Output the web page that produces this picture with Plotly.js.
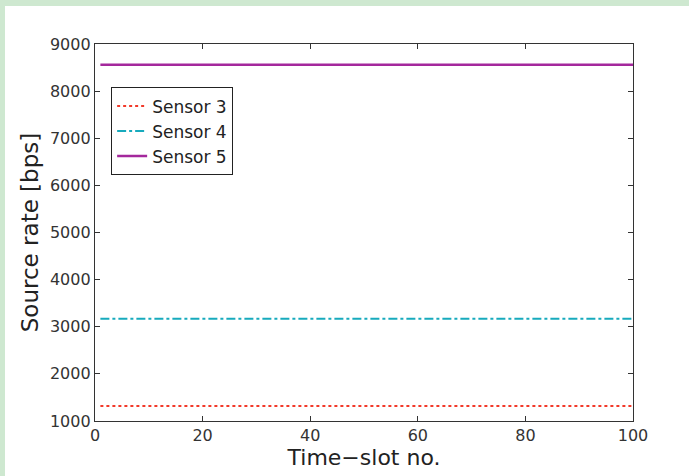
<!DOCTYPE html>
<html>
<head>
<meta charset="utf-8">
<script src="https://cdn.plot.ly/plotly-3.0.1.min.js"></script>
<style>
  html, body { margin: 0; padding: 0; width: 689px; height: 476px; background: #cee8d0; overflow: hidden; }
  #chart { position: absolute; left: 5px; top: 6px; width: 684px; height: 470px; background: #ffffff; }
</style>
</head>
<body>
<div id="chart"></div>
<script>
// Data
const timeSlots = [1, 100];
const sensor3Rate = [1320, 1320];
const sensor4Rate = [3170, 3170];
const sensor5Rate = [8560, 8560];
const seriesNames = ["Sensor 3", "Sensor 4", "Sensor 5"];
const xTicks = [0, 20, 40, 60, 80, 100];
const yTicks = [1000, 2000, 3000, 4000, 5000, 6000, 7000, 8000, 9000];

const FONT = "DejaVu Sans, Liberation Sans, Arial, sans-serif";

const traces = [
  { x: timeSlots, y: sensor3Rate, name: seriesNames[0], mode: "lines",
    line: { color: "#f23a2a", width: 2, dash: "dot" } },
  { x: timeSlots, y: sensor4Rate, name: seriesNames[1], mode: "lines",
    line: { color: "#17aabd", width: 2, dash: "dashdot" } },
  { x: timeSlots, y: sensor5Rate, name: seriesNames[2], mode: "lines",
    line: { color: "#a4289c", width: 2.5 } }
];

const axisCommon = {
  showline: true, linecolor: "#333333", linewidth: 1.2, mirror: "ticks",
  ticks: "inside", ticklen: 5, tickcolor: "#333333", tickwidth: 1.2,
  showgrid: false, zeroline: false,
  tickfont: { family: FONT, size: 16, color: "#333333" }
};

const layout = {
  width: 684, height: 470,
  paper_bgcolor: "#ffffff", plot_bgcolor: "#ffffff",
  margin: { l: 90, r: 56, t: 38, b: 55 },
  showlegend: true,
  legend: {
    x: 0.03, y: 0.885, xanchor: "left", yanchor: "top",
    bgcolor: "#ffffff", bordercolor: "#222222", borderwidth: 1,
    font: { family: FONT, size: 17, color: "#222222" },
    tracegroupgap: 0, itemwidth: 30
  },
  xaxis: Object.assign({}, axisCommon, {
    range: [0, 100], tickvals: xTicks, ticktext: xTicks.map(String),
    title: { text: "Time\u2212slot no.", font: { family: FONT, size: 22, color: "#222222" }, standoff: 5 }
  }),
  yaxis: Object.assign({}, axisCommon, {
    range: [1000, 9000], tickvals: yTicks, ticktext: yTicks.map(String),
    title: { text: "Source rate [bps]", font: { family: FONT, size: 23, color: "#222222" }, standoff: 4 }
  })
};

Plotly.newPlot("chart", traces, layout, { staticPlot: true, displayModeBar: false });
</script>
</body>
</html>
